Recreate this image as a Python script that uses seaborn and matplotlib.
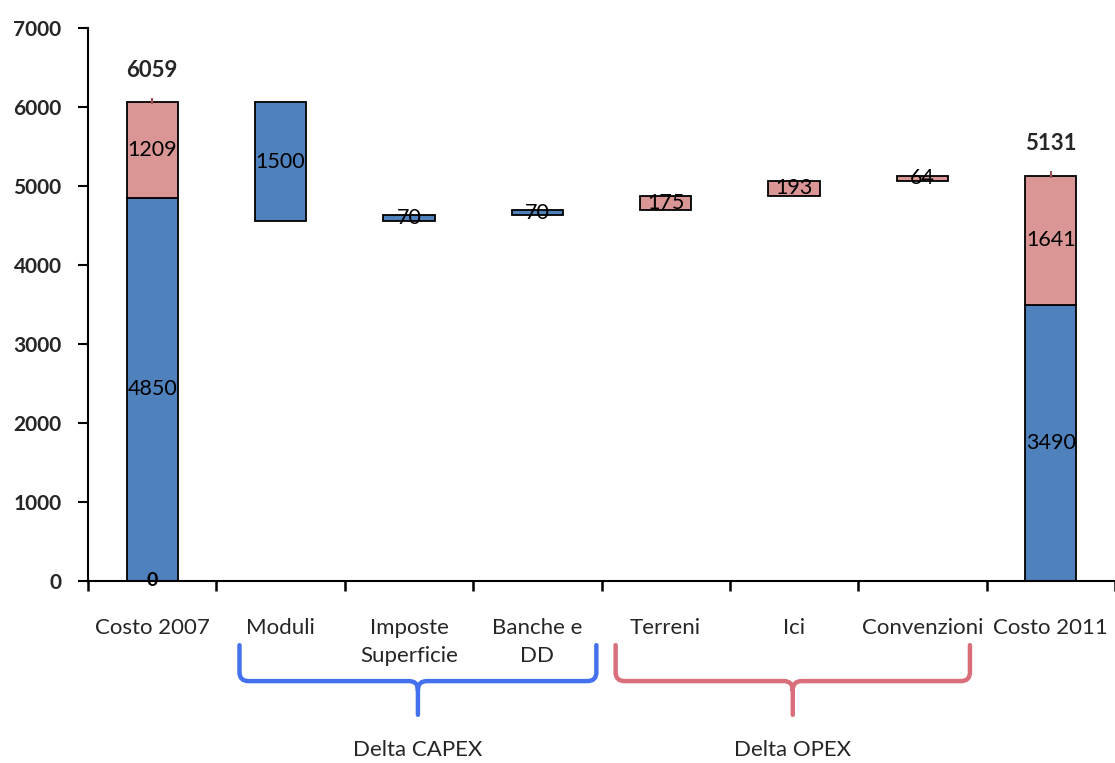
import numpy as np
import pandas as pd
import matplotlib
matplotlib.use("Agg")
import matplotlib.pyplot as plt
import matplotlib.transforms as mtransforms
from matplotlib.path import Path
from matplotlib.patches import PathPatch
from matplotlib.ticker import FixedLocator
import seaborn as sns

# ---- data -------------------------------------------------------------
categories = ["Costo 2007", "Moduli", "Imposte\nSuperficie", "Banche e\nDD",
              "Terreni", "Ici", "Convenzioni", "Costo 2011"]
capex_2007 = 4850
opex_2007 = 1209
delta_names = ["Moduli", "Imposte\nSuperficie", "Banche e\nDD",
               "Terreni", "Ici", "Convenzioni"]
delta_values = [-1500, 70, 70, 175, 193, 64]
delta_group = ["CAPEX", "CAPEX", "CAPEX", "OPEX", "OPEX", "OPEX"]
capex_2011 = 3490
opex_2011 = 1641
y_ticks = [0, 1000, 2000, 3000, 4000, 5000, 6000, 7000]
group_labels = {"CAPEX": "Delta CAPEX", "OPEX": "Delta OPEX"}

# ---- waterfall segments --------------------------------------------------
rows = [("Costo 2007", "CAPEX", 0, capex_2007),
        ("Costo 2007", "OPEX", capex_2007, opex_2007)]
running = capex_2007 + opex_2007
for name, d, g in zip(delta_names, delta_values, delta_group):
    bottom = running + d if d < 0 else running
    rows.append((name, g, bottom, abs(d)))
    running += d
rows += [("Costo 2011", "CAPEX", 0, capex_2011),
         ("Costo 2011", "OPEX", capex_2011, opex_2011)]
segments = pd.DataFrame(rows, columns=["category", "group", "bottom", "height"])
segments["order"] = segments["category"].map({c: i for i, c in enumerate(categories)})
segments = segments.sort_values(["group", "order"], kind="stable")

totals = {"Costo 2007": capex_2007 + opex_2007, "Costo 2011": capex_2011 + opex_2011}

# ---- style ---------------------------------------------------------------
sns.set_theme(style="white")
plt.rcParams["font.family"] = ["Lato", "DejaVu Sans"]

colors = {"CAPEX": "#4F81BD", "OPEX": "#D99694"}
brace_colors = {"CAPEX": "#4472EE", "OPEX": "#D96F7A"}

fig = plt.figure(figsize=(11.15, 7.63), dpi=100)
ax = fig.add_axes([88 / 1115, 1 - 581 / 763, (1115 - 88) / 1115, (581 - 28) / 763])

for g in ["CAPEX", "OPEX"]:
    sub = segments[segments["group"] == g]
    sns.barplot(data=sub, x="category", y="height", order=categories,
                bottom=sub["bottom"].to_numpy(), color=colors[g], saturation=1,
                width=0.4, edgecolor="black", linewidth=1.3, errorbar=None, ax=ax)

pos = {c: i for i, c in enumerate(categories)}

# values inside the segments
for _, r in segments.iterrows():
    ax.text(pos[r["category"]], r["bottom"] + r["height"] / 2, f"{r['height']}",
            ha="center", va="center", fontsize=15.5, color="black")

# base of the first total
ax.text(pos["Costo 2007"], 0, "0", ha="center", va="center", fontsize=14,
        fontweight="bold", color="black")

# totals above the stacked columns
for name, tot in totals.items():
    ax.vlines(pos[name], tot - 25, tot + 55, color="#A0525A", lw=1.5, zorder=5)
    ax.annotate(f"{tot}", (pos[name], tot), xytext=(0, 23), textcoords="offset points",
                ha="center", va="center", fontsize=16, fontweight="bold")

# ---- axes ------------------------------------------------------------------
ax.set_ylim(0, 7000)
ax.set_xlim(-0.5, len(categories) - 0.5)
ax.set_yticks(y_ticks)
ax.set_yticklabels([str(t) for t in y_ticks], fontsize=15, fontweight="bold")
ax.set_xticks(range(len(categories)))
ax.set_xticklabels(categories, fontsize=16, linespacing=1.5)
ax.xaxis.set_minor_locator(FixedLocator(np.arange(-0.5, len(categories), 1.0)))
ax.tick_params(axis="x", which="major", length=0, pad=27)
ax.tick_params(axis="x", which="minor", length=7, width=1.8, direction="out",
               color="black", bottom=True)
ax.tick_params(axis="y", length=7, width=1.5, direction="out", color="black",
               pad=12, left=True)
ax.set_xlabel("")
ax.set_ylabel("")
for s in ["top", "right"]:
    ax.spines[s].set_visible(False)
for s in ["left", "bottom"]:
    ax.spines[s].set_color("black")
    ax.spines[s].set_linewidth(1.5)
ax.grid(False)

# ---- group braces below the categories -----------------------------------
trans = mtransforms.blended_transform_factory(ax.transData, ax.transAxes)
y_top, y_mid, y_tip = -0.116, -0.181, -0.242
rx, ry = 0.07, 0.016


def brace(x0, x1):
    xc = (x0 + x1) / 2
    verts, codes = [], []
    for xe, sgn in ((x0, 1), (x1, -1)):
        verts += [(xe, y_top), (xe, y_mid + ry), (xe, y_mid), (xe + sgn * rx, y_mid),
                  (xc - sgn * rx, y_mid), (xc, y_mid), (xc, y_mid - ry)]
        codes += [Path.MOVETO, Path.LINETO, Path.CURVE3, Path.CURVE3,
                  Path.LINETO, Path.CURVE3, Path.CURVE3]
    verts += [(xc, y_mid - ry), (xc, y_tip)]
    codes += [Path.MOVETO, Path.LINETO]
    return Path(verts, codes), xc


spans = {"CAPEX": (0.68, 3.46), "OPEX": (3.61, 6.37)}
for g, (x0, x1) in spans.items():
    path, xc = brace(x0, x1)
    ax.add_patch(PathPatch(path, transform=trans, fill=False, lw=3.2,
                           edgecolor=brace_colors[g], clip_on=False,
                           capstyle="round", joinstyle="round"))
    ax.text(xc, -0.306, group_labels[g], transform=trans, ha="center", va="center",
            fontsize=16)

fig.savefig("out.png", dpi=100)
